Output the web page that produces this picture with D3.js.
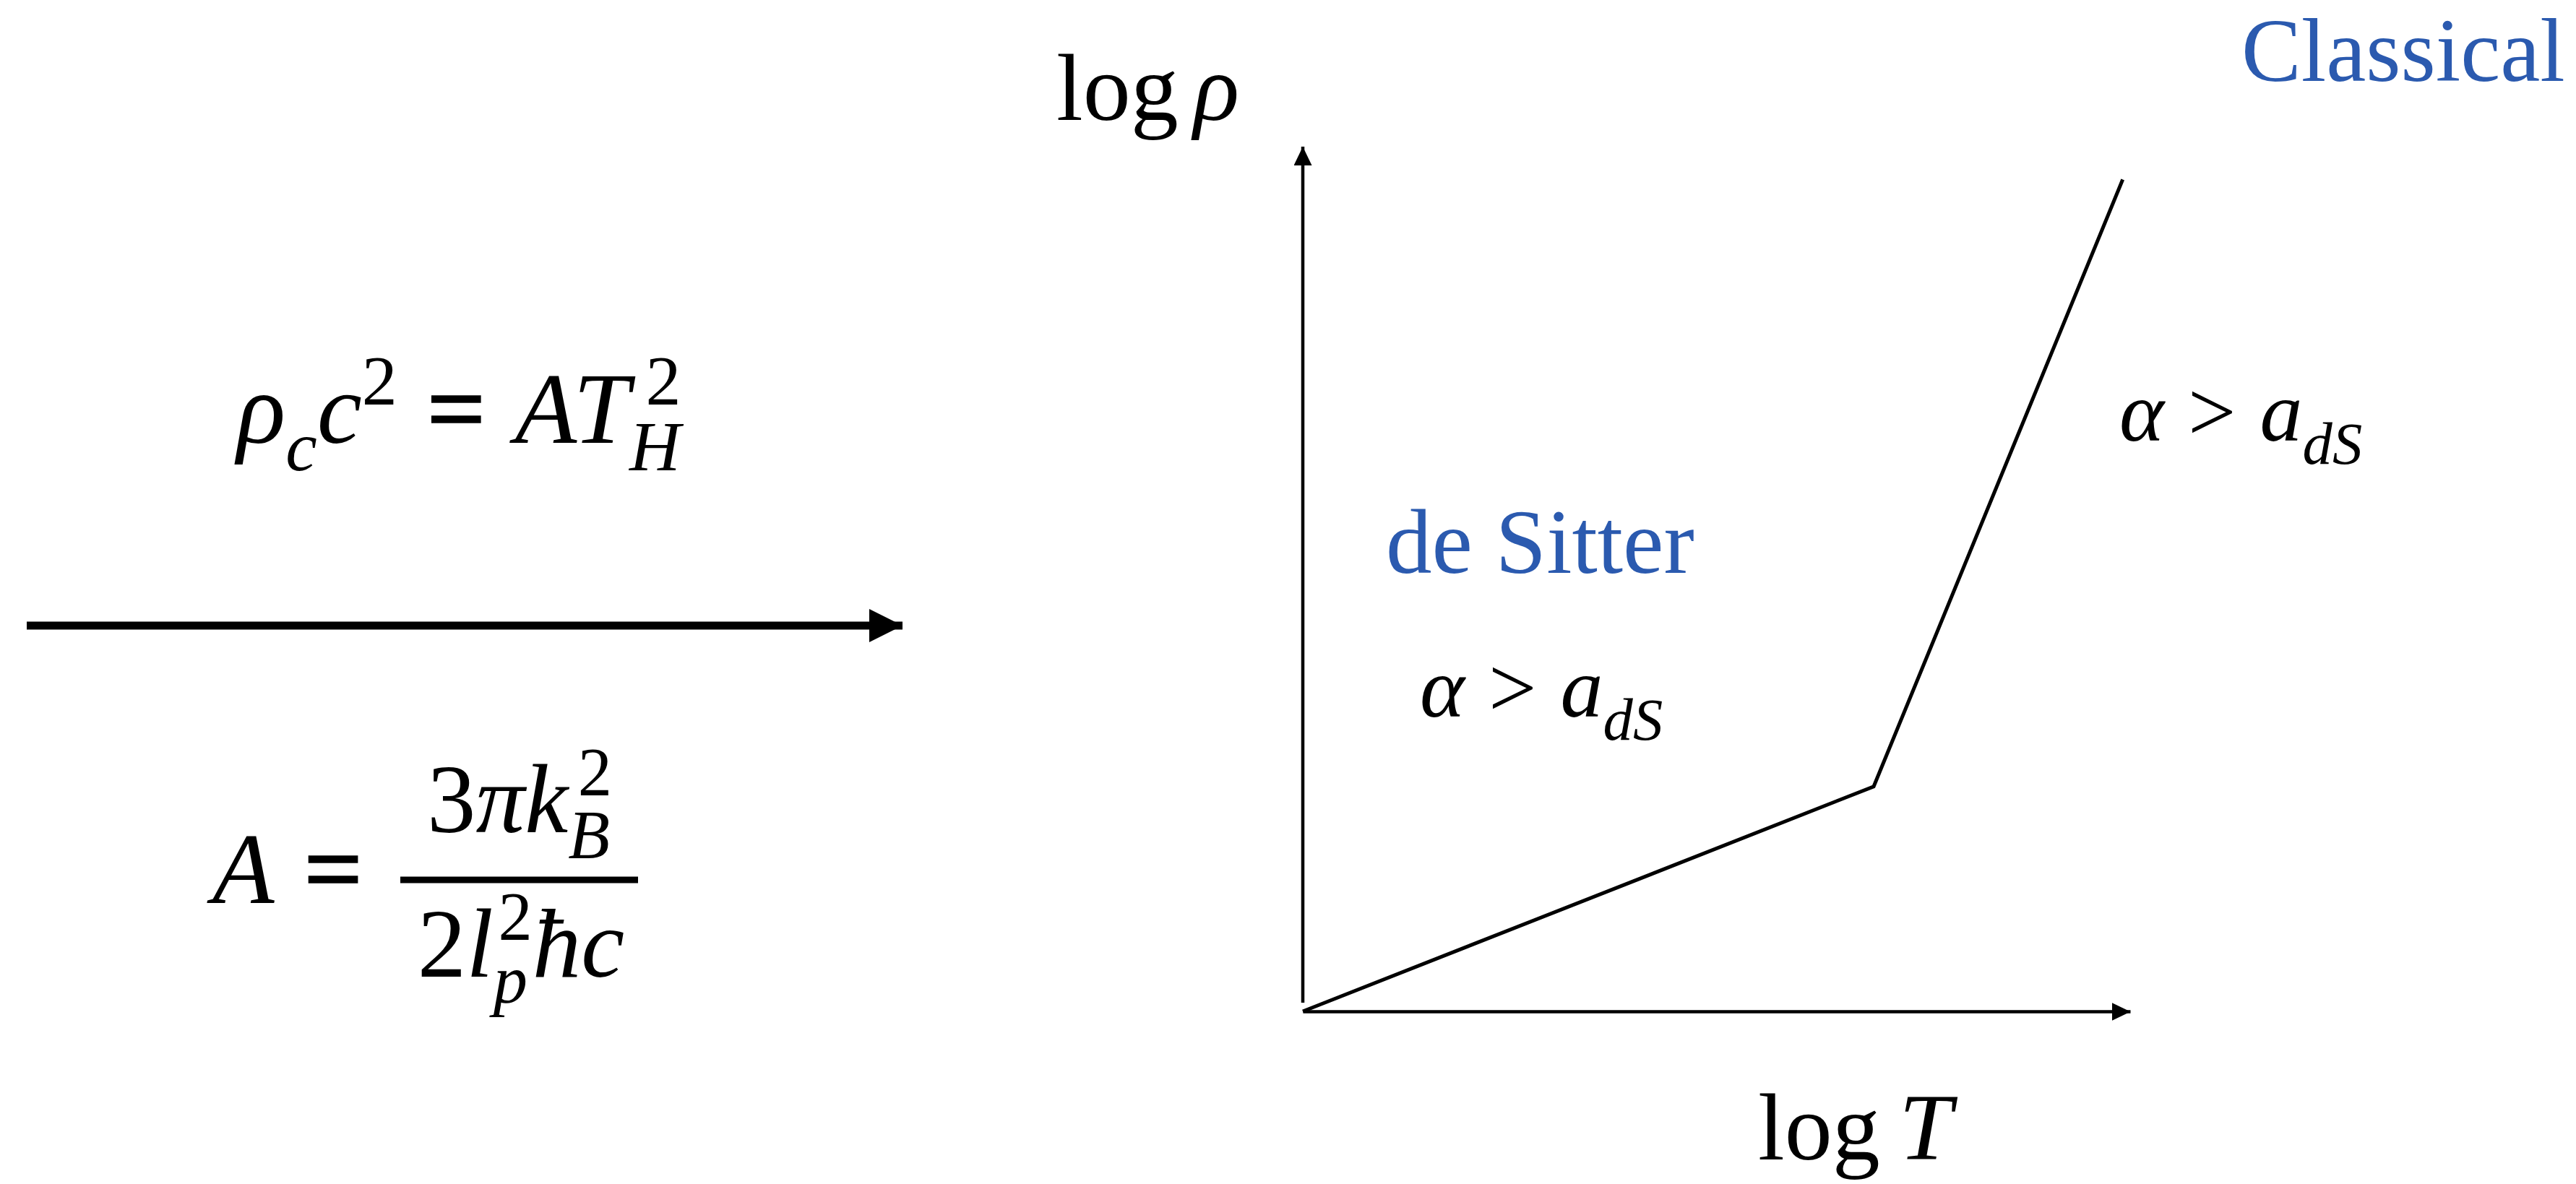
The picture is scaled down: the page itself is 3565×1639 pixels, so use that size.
<!DOCTYPE html>
<html>
<head>
<meta charset="utf-8">
<script src="https://cdn.jsdelivr.net/npm/d3@7"></script>
<style>
  html, body { margin: 0; padding: 0; background: #fff; }
  svg { display: block; }
</style>
</head>
<body>
<script>
// Phase boundary between the de Sitter and classical regimes,
// (log T, log ρ) in arbitrary units on 0–100 axes.
const boundaryLogT   = [0, 69, 99.1];
const boundaryLogRho = [0, 26, 96.2];

// Axis titles and region names
const xTitle = [{t: "log"}, {t: "T", i: 1, gap: 0.2}];
const yTitle = [{t: "log"}, {t: "ρ", i: 1, gap: 0.16}];
const regionNames = ["de Sitter", "Classical"];

// Formulas: i = italic, sub/sup = script, stack = share x with previous script,
// heavy = thickened glyph (relation signs)
const criterion = [
  {t: "α", i: 1}, {t: ">", gap: 0.28}, {t: "a", i: 1, gap: 0.28},
  {t: "d", i: 1, sub: 1}, {t: "S", i: 1, sub: 1}
];
const densityRelation = [
  {t: "ρ", i: 1}, {t: "c", i: 1, sub: 1}, {t: "c", i: 1}, {t: "2", sup: 1},
  {t: "=", gap: 0.3, heavy: 1}, {t: "A", i: 1, gap: 0.3}, {t: "T", i: 1},
  {t: "H", i: 1, sub: 1}, {t: "2", sup: 1, stack: 1, shift: 0.16}
];
const constantLhs = [{t: "A", i: 1}, {t: "=", gap: 0.3, heavy: 1}];
const constantNum = [
  {t: "3"}, {t: "π", i: 1}, {t: "k", i: 1},
  {t: "B", i: 1, sub: 1}, {t: "2", sup: 1, stack: 1, shift: 0.1}
];
const constantDen = [
  {t: "2"}, {t: "l", i: 1}, {t: "p", i: 1, sub: 1},
  {t: "2", sup: 1, stack: 1, shift: 0.05}, {t: "ħ", i: 1}, {t: "c", i: 1}
];

const W = 3565, H = 1639;
const FONT = "'Liberation Serif','Times New Roman',Times,serif";
const BLUE = "#2b5aaf";

const svg = d3.select("body").append("svg")
  .attr("width", W).attr("height", H)
  .attr("viewBox", `0 0 ${W} ${H}`);
svg.append("rect").attr("width", W).attr("height", H).attr("fill", "#fff");

// Arrowhead markers
const defs = svg.append("defs");
function arrowMarker(id, len, half) {
  defs.append("marker")
    .attr("id", id)
    .attr("markerUnits", "userSpaceOnUse")
    .attr("viewBox", `0 ${-half} ${len} ${2 * half}`)
    .attr("refX", len).attr("refY", 0)
    .attr("markerWidth", len).attr("markerHeight", 2 * half)
    .attr("orient", "auto")
    .append("path")
    .attr("d", `M0,${-half}L${len},0L0,${half}Z`)
    .attr("fill", "#000");
}
arrowMarker("axisHead", 26, 12.5);
arrowMarker("bigHead", 46, 23);

// Scales
const x = d3.scaleLinear().domain([0, 100]).range([1803, 2948]);
const y = d3.scaleLinear().domain([0, 100]).range([1400, 203]);

// Axes: bare domain lines ending in arrowheads
const xAxis = svg.append("g")
  .attr("transform", `translate(0,${y(0)})`)
  .call(d3.axisBottom(x).tickValues([]).tickSizeOuter(0));
const yAxis = svg.append("g")
  .attr("transform", `translate(${x(0)},0)`)
  .call(d3.axisLeft(y).tickValues([]).tickSizeOuter(0));
[xAxis, yAxis].forEach(g => g.select(".domain")
  .attr("stroke", "#000").attr("stroke-width", 4.5)
  .attr("marker-end", "url(#axisHead)"));
yAxis.select(".domain").attr("d", `M0,${y(1)}V${y(100)}`);

// Boundary curve
const pts = boundaryLogT.map((t, k) => [t, boundaryLogRho[k]]);
svg.append("path")
  .datum(pts)
  .attr("d", d3.line().x(d => x(d[0])).y(d => y(d[1])))
  .attr("fill", "none")
  .attr("stroke", "#000")
  .attr("stroke-width", 5)
  .attr("stroke-linejoin", "miter");

// Math text helper: builds a single <text> with tspans and relative shifts
function drawMath(segs, px, py, size, opts = {}) {
  const text = svg.append("text")
    .attr("x", px).attr("y", py)
    .attr("font-family", FONT)
    .attr("font-size", size)
    .attr("fill", opts.fill || "#000")
    .attr("text-anchor", opts.anchor || "start");
  let shift = 0;
  let prev = null;
  segs.forEach(s => {
    const script = s.sub || s.sup;
    const fs = script ? size * 0.7 : size;
    const target = s.sub ? size * 0.27 : s.sup ? -size * 0.38 : 0;
    const ts = text.append("tspan")
      .attr("font-size", fs)
      .attr("font-style", s.i ? "italic" : "normal")
      .attr("dy", target - shift)
      .text(s.t);
    if (s.heavy) ts.attr("stroke", "#000").attr("stroke-width", size * 0.025);
    shift = target;
    let dx = (s.gap || 0) * size;
    if (s.stack && prev) dx -= prev.node().getComputedTextLength();
    if (s.shift) dx += s.shift * size;
    if (dx) ts.attr("dx", dx);
    prev = ts;
  });
  return text;
}

// Axis titles
drawMath(yTitle, 1462, 166, 132);
drawMath(xTitle, 2433, 1605, 132);

// Region names
svg.append("text").attr("x", 1918).attr("y", 793)
  .attr("font-family", FONT).attr("font-size", 127).attr("fill", BLUE)
  .text(regionNames[0]);
svg.append("text").attr("x", 3102).attr("y", 112)
  .attr("font-family", FONT).attr("font-size", 124).attr("fill", BLUE)
  .text(regionNames[1]);

// Criterion in each region
drawMath(criterion, 1965, 992, 118);
drawMath(criterion, 2933, 610, 118);

// Left panel: density relation, arrow, constant
drawMath(densityRelation, 328, 613, 140);

svg.append("line")
  .attr("x1", 37).attr("y1", 866).attr("x2", 1249).attr("y2", 866)
  .attr("stroke", "#000").attr("stroke-width", 11)
  .attr("marker-end", "url(#bigHead)");

drawMath(constantLhs, 294, 1250, 140);
svg.append("line")
  .attr("x1", 554).attr("x2", 883).attr("y1", 1218).attr("y2", 1218)
  .attr("stroke", "#000").attr("stroke-width", 9);
drawMath(constantNum, 719, 1152, 135, {anchor: "middle"});
drawMath(constantDen, 721, 1352, 135, {anchor: "middle"});
</script>
</body>
</html>
